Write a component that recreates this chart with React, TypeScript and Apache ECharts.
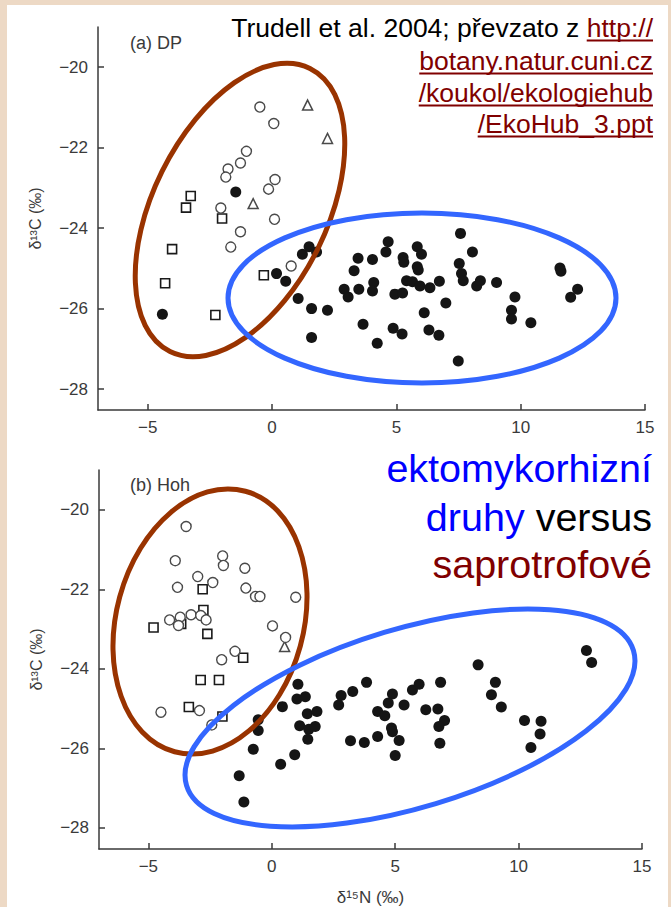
import React, { useEffect, useRef } from "react";
import * as echarts from "echarts";

// ---------- axis ticks ----------
const X_TICKS = [-5, 0, 5, 10, 15];
const Y_TICKS = [-28, -26, -24, -22, -20];

// ---------- panel (a) DP ----------
const dpFilled: number[][] = [
  [0.18, -25.13], [0.55, -25.32], [1.05, -25.75], [1.22, -24.65], [1.49, -24.46], [1.79, -24.59],
  [1.59, -26.0], [2.23, -26.04], [1.59, -26.72], [2.9, -25.52], [3.06, -25.71], [3.3, -25.06],
  [3.46, -24.75], [3.49, -25.52], [3.66, -26.39], [4.04, -24.78], [4.09, -25.35], [4.04, -25.56],
  [4.23, -26.86], [4.67, -24.34], [4.58, -24.59], [4.94, -25.64], [5.25, -25.61], [4.87, -26.49],
  [5.23, -26.63], [5.27, -24.73], [5.3, -24.85], [5.84, -24.46], [6.01, -24.65], [5.84, -24.96],
  [5.88, -25.04], [5.41, -25.31], [5.65, -25.33], [5.95, -25.44], [6.35, -25.48], [6.73, -25.32],
  [6.12, -26.1], [6.31, -26.53], [6.71, -26.66], [6.99, -25.86], [7.58, -24.13], [8.06, -24.59],
  [7.53, -24.88], [7.62, -25.13], [7.69, -25.31], [8.23, -25.44], [8.38, -25.31], [9.03, -25.35],
  [7.49, -27.3], [9.77, -25.71], [9.63, -26.04], [9.63, -26.26], [10.41, -26.35], [11.58, -24.99],
  [11.62, -25.07], [12.29, -25.52], [12.01, -25.72], [-1.46, -23.1], [-4.41, -26.14],
];
const dpCircles: number[][] = [
  [-0.49, -20.99], [0.07, -21.4], [-1.03, -22.09], [-1.27, -22.38], [-1.77, -22.53], [-1.86, -22.73],
  [0.12, -22.79], [-0.14, -23.03], [-2.06, -23.5], [0.1, -23.78], [-1.27, -24.09], [-1.66, -24.47],
  [0.77, -24.94],
];
const dpSquares: number[][] = [
  [-3.27, -23.2], [-3.46, -23.49], [-2.01, -23.76], [-4.02, -24.52], [-4.3, -25.37], [-2.28, -26.16],
  [-0.33, -25.17],
];
const dpTriangles: number[][] = [[1.43, -20.94], [2.23, -21.77], [-0.76, -23.39]];

// ---------- panel (b) Hoh ----------
const hohFilled: number[][] = [
  [1.06, -24.39], [1.02, -24.76], [1.36, -24.7], [0.43, -24.95], [1.44, -25.13], [1.83, -25.07],
  [1.13, -25.43], [1.5, -25.52], [1.76, -25.45], [1.46, -25.77], [-0.55, -25.28], [-0.55, -25.55],
  [-0.75, -26.02], [0.36, -26.4], [0.93, -26.16], [-1.32, -26.69], [-1.13, -27.35], [2.81, -24.67],
  [2.71, -24.91], [3.28, -24.57], [3.84, -24.34], [3.19, -25.81], [3.75, -25.85], [4.29, -25.7],
  [4.89, -24.63], [4.72, -24.86], [4.29, -25.07], [4.58, -25.18], [4.85, -25.49], [4.89, -25.58],
  [5.16, -25.8], [5.0, -26.18], [5.36, -24.91], [5.7, -24.53], [5.97, -24.39], [6.24, -25.03],
  [6.84, -24.34], [6.73, -25.01], [7.0, -25.3], [6.77, -25.45], [6.81, -25.87], [8.36, -23.9],
  [9.06, -24.34], [8.9, -24.65], [9.3, -24.96], [10.24, -25.3], [10.91, -25.32], [10.87, -25.64],
  [10.5, -25.98], [12.75, -23.54], [12.96, -23.84],
];
const hohCircles: number[][] = [
  [-3.47, -20.42], [-3.91, -21.28], [-1.99, -21.16], [-1.96, -21.4], [-1.09, -21.47], [-3.0, -21.68],
  [-2.39, -21.83], [-3.82, -21.95], [-1.05, -21.97], [-0.66, -22.18], [-0.48, -22.18], [0.97, -22.2],
  [-4.14, -22.77], [-3.71, -22.7], [-3.78, -22.91], [-3.27, -22.64], [-2.88, -22.66], [-2.66, -22.77],
  [0.03, -22.92], [0.56, -23.21], [-1.49, -23.56], [-2.03, -23.77], [-4.49, -25.09], [-2.93, -25.05],
  [-2.43, -25.41],
];
const hohSquares: number[][] = [
  [-2.8, -22.0], [-2.77, -22.52], [-3.67, -22.87], [-4.79, -22.96], [-2.61, -23.12], [-1.16, -23.72],
  [-2.88, -24.28], [-2.14, -24.28], [-3.36, -24.96], [-2.0, -25.2],
];
const hohTriangles: number[][] = [[0.52, -23.44]];

// ---------- texts ----------
const SOURCE_TEXT = "Trudell et al. 2004; převzato z ";
const SOURCE_LINKS = ["http://", "botany.natur.cuni.cz", "/koukol/ekologiehub", "/EkoHub_3.ppt"];
const CAPTION_1 = "ektomykorhizní";
const CAPTION_2A = "druhy";
const CAPTION_2B = " versus";
const CAPTION_3 = "saprotrofové";

const FONT = '"Liberation Sans", Arial, Helvetica, sans-serif';
const AXIS_COLOR = "#3a3a3a";
const LINK_RED = "#800000";
const BROWN = "#993300";
const BLUE = "#3366FF";

function measure(text: string, size: number): number {
  const c = document.createElement("canvas").getContext("2d");
  if (!c) return text.length * size * 0.5;
  c.font = `${size}px "Liberation Sans"`;
  return c.measureText(text).width;
}

const minus = (v: number) => String(v).replace("-", "\u2212");

function makeAxes(idx: number, showXName: boolean, yMin: number) {
  const x = {
    type: "value",
    gridIndex: idx,
    min: -7,
    max: 15,
    name: showXName ? "\u03b4\u00b9\u2075N (\u2030)" : "",
    nameLocation: "middle",
    nameGap: 40,
    nameTextStyle: { fontFamily: FONT, fontSize: 17, color: AXIS_COLOR },
    axisLine: { onZero: false, lineStyle: { color: AXIS_COLOR, width: 1.5 } },
    axisTick: { inside: true, length: 6, customValues: X_TICKS, lineStyle: { color: AXIS_COLOR, width: 1.5 } },
    axisLabel: { customValues: X_TICKS, margin: 9, fontFamily: FONT, fontSize: 17, color: AXIS_COLOR, formatter: minus },
    splitLine: { show: false },
  };
  const y = {
    type: "value",
    gridIndex: idx,
    min: yMin,
    max: -19,
    name: "\u03b4\u00b9\u00b3C (\u2030)",
    nameLocation: "middle",
    nameGap: 55,
    nameRotate: 90,
    nameTextStyle: { fontFamily: FONT, fontSize: 16, color: AXIS_COLOR },
    axisLine: { onZero: false, lineStyle: { color: AXIS_COLOR, width: 1.5 } },
    axisTick: { inside: true, length: 6, customValues: Y_TICKS, lineStyle: { color: AXIS_COLOR, width: 1.5 } },
    axisLabel: { customValues: Y_TICKS, margin: 10, fontFamily: FONT, fontSize: 17, color: AXIS_COLOR, formatter: minus },
    splitLine: { show: false },
  };
  return { x, y };
}

function makeSeries(idx: number, filled: number[][], circles: number[][], squares: number[][], triangles: number[][]) {
  const base = { type: "scatter", xAxisIndex: idx, yAxisIndex: idx, silent: true };
  return [
    { ...base, name: "squares", data: squares, symbol: "rect", symbolSize: 9,
      itemStyle: { color: "#ffffff", borderColor: "#1a1a1a", borderWidth: 1.6, opacity: 1 }, z: 2 },
    { ...base, name: "triangles", data: triangles, symbol: "triangle", symbolSize: 10,
      itemStyle: { color: "#ffffff", borderColor: "#4a4a4a", borderWidth: 1.5, opacity: 1 }, z: 3 },
    { ...base, name: "circles", data: circles, symbol: "circle", symbolSize: 10,
      itemStyle: { color: "#ffffff", borderColor: "#4a4a4a", borderWidth: 1.4, opacity: 1 }, z: 4 },
    { ...base, name: "filled", data: filled, symbol: "circle", symbolSize: 11,
      itemStyle: { color: "#151515", opacity: 1 }, z: 5 },
  ];
}

function ellipse(cx: number, cy: number, rx: number, ry: number, deg: number, color: string) {
  return {
    type: "ellipse",
    x: cx,
    y: cy,
    rotation: (deg * Math.PI) / 180,
    shape: { cx: 0, cy: 0, rx, ry },
    style: { fill: "none", stroke: color, lineWidth: 5 },
    silent: true,
    z: 100,
  };
}

function text(str: string, x: number, y: number, size: number, color: string) {
  return {
    type: "text",
    x,
    y,
    silent: true,
    z: 110,
    style: {
      text: str,
      fill: color,
      font: `${size}px ${FONT}`,
      textAlign: "right",
      textVerticalAlign: "middle",
    },
  };
}

function underline(x1: number, x2: number, y: number) {
  return {
    type: "line",
    silent: true,
    z: 110,
    shape: { x1, y1: y, x2, y2: y },
    style: { stroke: LINK_RED, lineWidth: 1.8 },
  };
}

export default function App() {
  const ref = useRef<HTMLDivElement>(null);

  useEffect(() => {
    if (!ref.current) return;
    const chart = echarts.init(ref.current, null, { renderer: "svg" });

    const a = makeAxes(0, false, -28.52);
    const b = makeAxes(1, true, -28.53);

    // source text block
    const R1 = 653;
    const S = 26.5;
    const srcMid = [28, 61, 93, 124];
    const httpW = measure(SOURCE_LINKS[0], S);
    const graphics: any[] = [
      { type: "rect", shape: { x: 7, y: 5, width: 661, height: 902 }, style: { fill: "#ffffff" }, z: -10, silent: true },
      text(SOURCE_TEXT, R1 - httpW, srcMid[0], S, "#000000"),
    ];
    SOURCE_LINKS.forEach((s, i) => {
      const w = measure(s, S);
      graphics.push(text(s, R1, srcMid[i], S, LINK_RED));
      graphics.push(underline(R1 - w, R1, srcMid[i] + 12.5));
    });

    // caption block
    const R2 = 652;
    const C = 39.5;
    const versusW = measure(CAPTION_2B, C);
    graphics.push(text(CAPTION_1, R2, 468, C, "#0000FF"));
    graphics.push(text(CAPTION_2A, R2 - versusW, 517, C, "#0000FF"));
    graphics.push(text(CAPTION_2B, R2, 517, C, "#000000"));
    graphics.push(text(CAPTION_3, R2, 563.5, C, LINK_RED));

    // ellipses (annotation overlays)
    graphics.push(ellipse(240, 210, 158, 87, 63.7, BROWN));
    graphics.push(ellipse(422, 298, 194, 85, 0, BLUE));
    graphics.push(ellipse(210, 621.5, 135, 93.6, 74.8, BROWN));
    graphics.push(ellipse(410, 718, 233.5, 89.4, 16.8, BLUE));

    const titleStyle = { fontFamily: FONT, fontSize: 18, fontWeight: "normal", color: AXIS_COLOR };
    chart.setOption({
      animation: false,
      backgroundColor: "#EDD9C5",
      title: [
        { text: "(a) DP", left: 130, top: 34, padding: 0, textStyle: titleStyle },
        { text: "(b) Hoh", left: 130, top: 476, padding: 0, textStyle: titleStyle },
      ],
      grid: [
        { left: 98, top: 27, width: 547, height: 383 },
        { left: 99, top: 470, width: 543, height: 379 },
      ],
      xAxis: [a.x, b.x],
      yAxis: [a.y, b.y],
      series: [
        ...makeSeries(0, dpFilled, dpCircles, dpSquares, dpTriangles),
        ...makeSeries(1, hohFilled, hohCircles, hohSquares, hohTriangles),
      ],
      graphic: { elements: graphics },
    });

    return () => chart.dispose();
  }, []);

  return (
    <div
      ref={ref}
      style={{ position: "absolute", left: 0, top: 0, width: 671, height: 907 }}
    />
  );
}
